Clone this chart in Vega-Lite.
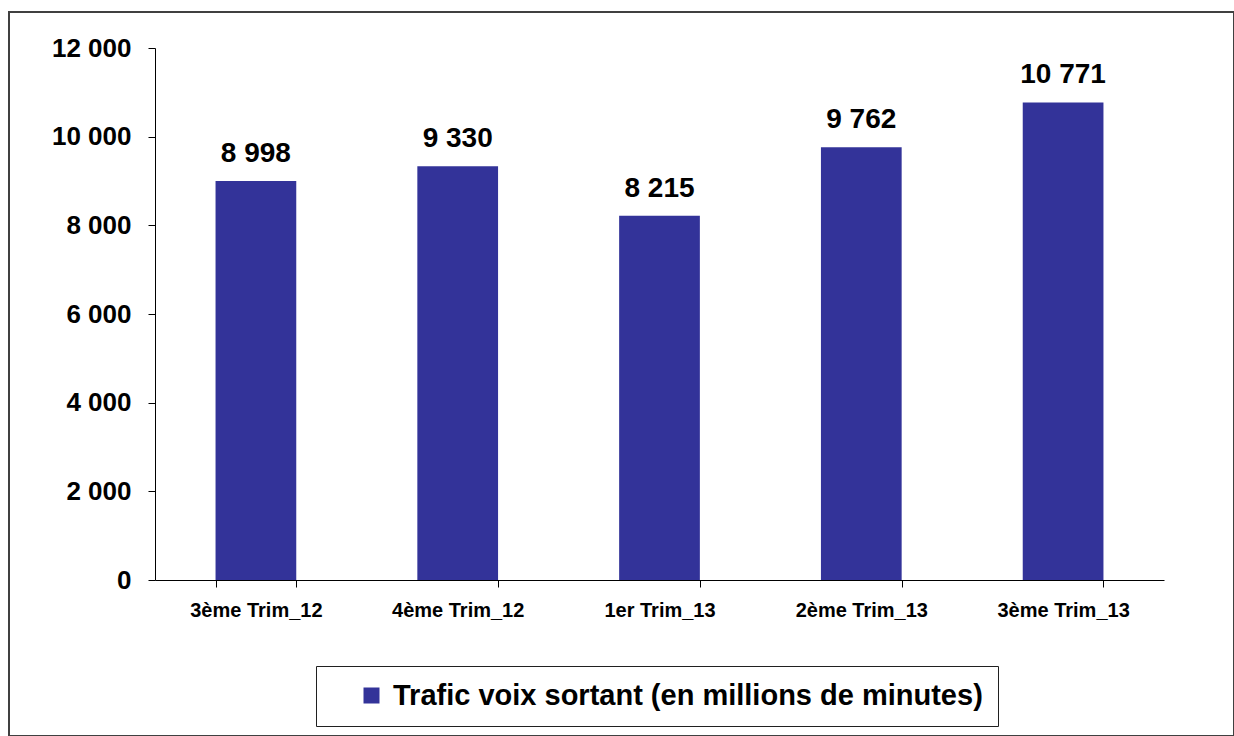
{
  "$schema": "https://vega.github.io/schema/vega-lite/v6.json",
  "width": 1225,
  "height": 724,
  "autosize": {"type": "none"},
  "padding": {"left": 9, "top": 12, "right": 0, "bottom": 0},
  "background": "white",
  "config": {
    "view": {"stroke": "#404040", "strokeWidth": 2},
    "locale": {"number": {"decimal": ",", "thousands": " ", "grouping": [3], "currency": ["", " €"]}},
    "font": "Liberation Sans"
  },
  "data": {
    "values": [
      {"periode": "3ème Trim_12", "trafic": 8998, "serie": "Trafic voix sortant (en millions de minutes)"},
      {"periode": "4ème Trim_12", "trafic": 9330, "serie": "Trafic voix sortant (en millions de minutes)"},
      {"periode": "1er Trim_13", "trafic": 8215, "serie": "Trafic voix sortant (en millions de minutes)"},
      {"periode": "2ème Trim_13", "trafic": 9762, "serie": "Trafic voix sortant (en millions de minutes)"},
      {"periode": "3ème Trim_13", "trafic": 10771, "serie": "Trafic voix sortant (en millions de minutes)"}
    ]
  },
  "layer": [
    {
      "mark": {"type": "bar", "color": "#333399"},
      "encoding": {
        "x": {
          "field": "periode", "type": "nominal", "sort": null,
          "scale": {"range": [146, 1155], "paddingInner": 0.6, "paddingOuter": 0.3},
          "axis": {
            "title": null, "labelAngle": 0, "tickBand": "extent", "offset": -156,
            "tickSize": 7, "labelFontSize": 20, "labelFontWeight": "bold", "labelPadding": 13,
            "domainColor": "black", "tickColor": "black", "labelColor": "black", "labelFont": "Liberation Sans"
          }
        },
        "y": {
          "field": "trafic", "type": "quantitative",
          "scale": {"domain": [0, 12000], "range": [568, 36], "nice": false},
          "axis": {
            "title": null, "values": [0, 2000, 4000, 6000, 8000, 10000, 12000], "format": ",d",
            "offset": -146, "grid": false, "tickSize": 7, "labelFontSize": 26, "labelFontWeight": "bold",
            "labelPadding": 17, "labelFlush": false, "labelOverlap": false,
            "domainColor": "black", "tickColor": "black", "labelColor": "black", "labelFont": "Liberation Sans"
          }
        },
        "color": {
          "field": "serie", "type": "nominal",
          "scale": {"range": ["#333399"]},
          "legend": {
            "title": null, "orient": "none", "legendX": 307, "legendY": 654,
            "strokeColor": "#202020", "fillColor": "white", "padding": 15,
            "symbolType": "square", "symbolSize": 256, "symbolStrokeWidth": 0, "symbolOffset": 26,
            "labelOffset": 7, "labelFontSize": 29, "labelFontWeight": "bold", "labelColor": "black",
            "labelFont": "Liberation Sans", "labelLimit": 1000
          }
        }
      }
    },
    {
      "mark": {"type": "text", "dy": -19, "baseline": "alphabetic", "fontSize": 28, "fontWeight": "bold", "font": "Liberation Sans", "color": "black"},
      "encoding": {
        "x": {"field": "periode", "type": "nominal", "sort": null},
        "y": {"field": "trafic", "type": "quantitative"},
        "text": {"field": "trafic", "type": "quantitative", "format": ",d"}
      }
    }
  ]
}
